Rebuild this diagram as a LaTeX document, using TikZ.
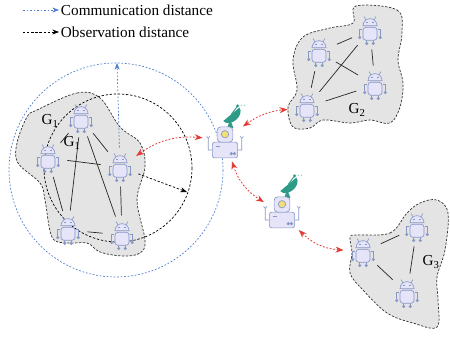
\documentclass[tikz,border=0pt]{standalone}
\usepackage{fontspec}
\setmainfont{Liberation Serif}
\usepackage{tikz}
\usetikzlibrary{arrows.meta,positioning,calc}
\definecolor{BotFill}{HTML}{E6E4F8}
\definecolor{BotLine}{HTML}{8797C6}
\definecolor{BlobGray}{HTML}{E4E4E4}
\definecolor{CommBlue}{HTML}{4F7FD0}
\definecolor{LinkRed}{HTML}{E53935}
\definecolor{DishTeal}{HTML}{2E9A87}
\definecolor{LampYellow}{HTML}{F3DF74}

% small robot and relay robot icons (drawn upright, origin at the body)
\tikzset{
  botpic/.pic={
    \begin{scope}[yscale=-1, scale=1.08, color=BotLine, line width=0.55pt]
      \draw (-3.5,9) -- (-5.5,12.5) (3.5,9) -- (5.5,12.5);
      \filldraw[fill=BotFill] (-6.5,4) arc[start angle=180, end angle=0, radius=6.5] -- cycle;
      \draw (-4,7.5) -- (-1.5,7.5) (1.5,7.5) -- (4,7.5);
      \draw (-7,1) -- (-9.5,1) -- (-9.5,-6) (7,1) -- (9.5,1) -- (9.5,-6);
      \draw (-3,-9.5) -- (-3,-11.5) (3,-9.5) -- (3,-11.5);
      \filldraw[fill=BotFill, rounded corners=2.5] (-6.5,-9.5) rectangle (6.5,2.5);
      \filldraw[fill=BotLine] (-9.5,-7) circle[radius=1.1] (9.5,-7) circle[radius=1.1]
        (-3,-12.5) circle[radius=1.1] (3,-12.5) circle[radius=1.1];
    \end{scope}
  },
  relaypic/.pic={
    \begin{scope}[yscale=-1, scale=1.05, color=BotLine, line width=0.55pt]
      % dish
      \fill[DishTeal] (2,21) -- (8,21) -- (5,29) -- cycle;
      \fill[DishTeal, rotate around={-40:(6,34)}] (-4,34) arc[start angle=180, end angle=360, x radius=10, y radius=7] -- cycle;
      \draw[DishTeal, line width=0.8pt] (6,34) -- (12,42);
      \fill[DishTeal] (12,42) circle[radius=1.6];
      \fill[DishTeal!45] (15.5,42.5) circle[radius=0.8] (18.5,42.5) circle[radius=0.8];
      % arms
      \draw (-12,0) -- (-16,0) -- (-16,11) (-17.5,13) -- (-16,11) -- (-14.5,13);
      \draw (12,0) -- (16,0) -- (16,11) (17.5,13) -- (16,11) -- (14.5,13);
      % body and head
      \filldraw[fill=BotFill, rounded corners=2] (-12,-7.5) rectangle (12,7.5);
      \draw (-9,3.5) -- (-5,3.5);
      \filldraw[fill=BotLine] (6,-3.5) circle[radius=1.2] (9,-3.5) circle[radius=1.2];
      \filldraw[fill=BotFill, rounded corners=3] (-7.5,7.5) rectangle (7.5,22);
      \filldraw[fill=LampYellow] (0,15) circle[radius=3.5];
    \end{scope}
  }
}

\begin{document}
\begin{tikzpicture}[
    x=0.03cm, y=-0.03cm,
    font=\fontsize{13pt}{15pt}\selectfont,
    bot/.style={circle, minimum size=33pt, inner sep=0pt},
    relay/.style={circle, minimum size=38pt, inner sep=0pt},
    blob/.style={fill=BlobGray, draw=black!80, line width=0.6pt, dash pattern=on 2pt off 1.3pt},
    link/.style={line width=0.6pt, draw=black!85},
    commarr/.style={-{Stealth[length=2mm]}, draw=CommBlue, line width=0.6pt, dash pattern=on 1.5pt off 1.5pt},
    obsarr/.style={-{Stealth[length=2mm]}, draw=black, line width=0.6pt, dash pattern=on 2pt off 1.5pt},
    redarr/.style={{Stealth[length=2.4mm]}-{Stealth[length=2.4mm]}, draw=LinkRed, line width=0.7pt, dash pattern=on 1.5pt off 1.5pt}
]
\useasboundingbox (0,0) rectangle (450,338);

% legend
\coordinate (lc0) at (23,10);
\node[anchor=west, inner sep=1.5pt] (lcomm) at (59,10) {Communication distance};
\coordinate (lo0) at (23,32);
\node[anchor=west, inner sep=1.5pt] (lobs) at (59,32) {Observation distance};
\draw[commarr] (lc0) -- (lcomm);
\draw[obsarr] (lo0) -- (lobs);

% group areas
\draw[blob] plot[smooth cycle, tension=0.6] coordinates {(37,110) (77,93) (100,98) (120,127) (140,143) (145,167)
  (137,200) (145,240) (140,253) (123,256) (100,252) (87,243) (67,243) (52,237) (45,200) (40,183) (18,163) (17,143) (27,117)};
\draw[blob] plot[smooth cycle, tension=0.6] coordinates {(356,6) (397,10) (402,33) (398,60) (403,83) (400,107)
  (390,123) (370,120) (350,123) (323,120) (310,128) (293,127) (288,107) (297,90) (293,60) (303,37) (330,28) (353,23)};
\draw[blob] plot[smooth cycle, tension=0.6] coordinates {(357,235) (390,233) (407,213) (420,203) (437,200) (448,213)
  (445,250) (437,277) (438,300) (437,327) (413,323) (387,313) (363,290) (350,273) (352,253) (350,237)};

% robots
\node[bot] (g1a) at (81,118) {};
\node[bot] (g1b) at (48,158) {};
\node[bot] (g1c) at (120,167) {};
\node[bot] (g1d) at (68,230) {};
\node[bot] (g1e) at (122,235) {};
\node[bot] (g2a) at (319,52) {};
\node[bot] (g2b) at (370,30) {};
\node[bot] (g2c) at (375,85) {};
\node[bot] (g2d) at (307,107) {};
\node[bot] (g3a) at (363,252) {};
\node[bot] (g3b) at (417,227) {};
\node[bot] (g3c) at (407,293) {};
\node[relay] (s1) at (225,140) {};
\node[relay] (s2) at (283,214) {};

% ranges around g1c
\draw[CommBlue, line width=0.6pt, dash pattern=on 1.5pt off 1.5pt] (116,170) circle[radius=107];
\draw[black, line width=0.6pt, dash pattern=on 2pt off 1.5pt] (118,168) circle[radius=74];

% links inside the groups
\foreach \a/\b in {g1a/g1b, g1a/g1d, g1a/g1e, g1a/g1c, g1b/g1c, g1b/g1d, g1c/g1e, g1d/g1e,
                   g2a/g2b, g2a/g2d, g2d/g2b, g2a/g2c, g2b/g2c, g2d/g2c,
                   g3a/g3b, g3b/g3c, g3a/g3c}
  \draw[link] (\a) -- (\b);

\foreach \n in {g1a,g1b,g1c,g1d,g1e,g2a,g2b,g2c,g2d,g3a,g3b,g3c}
  \pic at (\n) {botpic};
\pic at (225,150) {relaypic};
\pic at (282,220) {relaypic};

% group labels
\node (lg1) at (50,121) {G\textsubscript{1}};
\node (lg1b) at (72,143) {G\textsubscript{1}};
\node (lg2) at (357,110) {G\textsubscript{2}};
\node (lg3) at (431,262) {G\textsubscript{3}};

% ranges
\coordinate (ctop) at (117,63);
\coordinate (oedge) at (187,192);
\draw[commarr] (g1c) -- (ctop);
\draw[obsarr] (g1c) -- (oedge);

% relay links
\draw[redarr] (g1c) to[bend left=20] (s1);
\draw[redarr] (s1) to[bend left=15] (g2d);
\draw[redarr] (s1) to[bend right=20] (s2);
\draw[redarr] (s2) to[bend right=20] (g3a);
\end{tikzpicture}
\end{document}
